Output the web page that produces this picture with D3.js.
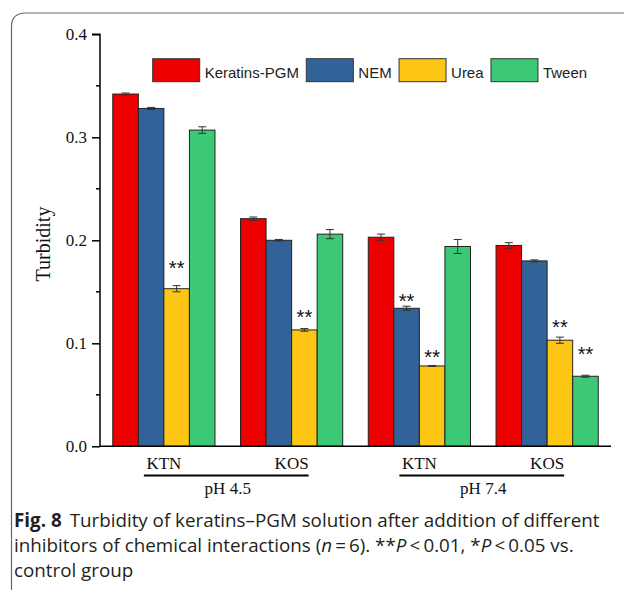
<!DOCTYPE html>
<html>
<head>
<meta charset="utf-8">
<script src="https://cdn.jsdelivr.net/npm/d3@7"></script>
<style>
  body { margin: 0; background: #fff; }
  svg { display: block; }
</style>
</head>
<body>
<div id="chart-area"></div>
<script>
// Data
const categories = ["KTN", "KOS", "KTN2", "KOS2"]
const catLabels = ["KTN", "KOS", "KTN", "KOS"]
const phLabels = ["pH 4.5", "pH 7.4"]
const series = ["Keratins-PGM", "NEM", "Urea", "Tween"]
const colors = ["#ee0000", "#316399", "#fdc514", "#3cc875"]

const keratins = [0.342, 0.221, 0.203, 0.195]
const nem = [0.328, 0.200, 0.134, 0.180]
const urea = [0.153, 0.113, 0.078, 0.103]
const tween = [0.307, 0.206, 0.194, 0.068]

const keratinsErr = [0.001, 0.0016, 0.003, 0.0027]
const nemErr = [0.001, 0.0008, 0.002, 0.001]
const ureaErr = [0.003, 0.0013, 0.0005, 0.003]
const tweenErr = [0.0032, 0.0044, 0.0068, 0.001]

// ** markers: category index, series index, height (turbidity units)
const starCat = [0, 1, 2, 2, 3, 3]
const starSer = [2, 2, 1, 2, 2, 3]
const starAt = [0.1777, 0.1304, 0.1456, 0.0916, 0.1204, 0.0944]

const yTicks = [0, 0.1, 0.2, 0.3, 0.4]
const yMinor = [0.05, 0.15, 0.25, 0.35]

const W = 624, H = 590
const MARGIN = { LEFT: 100, RIGHT: 13, TOP: 34.3, BOTTOM: 143.7 }

const svg = d3.select("#chart-area").append("svg")
  .attr("width", W)
  .attr("height", H)

// frame round the figure
svg.append("path")
  .attr("d", "M11.5,590 L11.5,27 Q11.5,13 25.5,13 L624,13")
  .attr("fill", "none")
  .attr("stroke", "#666")
  .attr("stroke-width", 1.2)

const allValues = [keratins, nem, urea, tween]
const allErrs = [keratinsErr, nemErr, ureaErr, tweenErr]

const data = []
categories.forEach((c, i) => {
  series.forEach((s, j) => {
    data.push({ cat: c, ser: s, j: j, value: allValues[j][i], err: allErrs[j][i] })
  })
})

// Scales
const x0 = d3.scaleBand()
  .domain(categories)
  .range([MARGIN.LEFT, W - MARGIN.RIGHT])
  .paddingInner(0.2)
  .paddingOuter(0.1)
const x1 = d3.scaleBand()
  .domain(series)
  .range([0, x0.bandwidth()])
const y = d3.scaleLinear()
  .domain([0, 0.4])
  .range([H - MARGIN.BOTTOM, MARGIN.TOP])

// Bars
svg.append("g").selectAll("rect")
  .data(data)
  .join("rect")
  .attr("x", d => x0(d.cat) + x1(d.ser))
  .attr("y", d => y(d.value))
  .attr("width", x1.bandwidth())
  .attr("height", d => y(0) - y(d.value))
  .attr("fill", d => colors[d.j])
  .attr("stroke", "#222")
  .attr("stroke-width", 1)

// Error bars
const eb = svg.append("g").attr("stroke", "#333").attr("stroke-width", 1)
data.forEach(d => {
  const cx = x0(d.cat) + x1(d.ser) + x1.bandwidth() / 2
  const top = y(d.value + d.err), bot = y(d.value - d.err)
  eb.append("line").attr("x1", cx).attr("x2", cx).attr("y1", top).attr("y2", bot)
  eb.append("line").attr("x1", cx - 4).attr("x2", cx + 4).attr("y1", top).attr("y2", top)
  eb.append("line").attr("x1", cx - 4).attr("x2", cx + 4).attr("y1", bot).attr("y2", bot)
})

// Significance stars
svg.append("g").selectAll("text")
  .data(starAt)
  .join("text")
  .attr("x", (d, i) => x0(categories[starCat[i]]) + x1(series[starSer[i]]) + x1.bandwidth() / 2)
  .attr("y", d => y(d))
  .attr("dy", "0.58em")
  .attr("text-anchor", "middle")
  .style("font-family", "Liberation Sans, Arial, sans-serif")
  .style("font-size", "20px")
  .attr("fill", "#111")
  .text("**")

// Y axis
const yAxis = svg.append("g")
  .attr("transform", `translate(${MARGIN.LEFT},0)`)
  .call(d3.axisLeft(y).tickValues(yTicks).tickFormat(d3.format(".1f")).tickSize(8).tickPadding(5))
yAxis.select(".domain").attr("d", `M-8,${y(0.4)}H0V${y(0)}`).attr("stroke-width", 1.5)
yAxis.selectAll(".tick line").attr("stroke-width", 1.5)
yAxis.selectAll(".tick text")
  .style("font-family", "Liberation Serif, Times New Roman, serif")
  .style("font-size", "17px")
  .attr("fill", "#111")
yAxis.selectAll(".minor")
  .data(yMinor)
  .join("line")
  .attr("class", "minor")
  .attr("x1", -4).attr("x2", 0)
  .attr("y1", d => y(d)).attr("y2", d => y(d))
  .attr("stroke", "#000")
  .attr("stroke-width", 1.5)

// X axis (line only)
svg.append("line")
  .attr("x1", MARGIN.LEFT).attr("x2", W - MARGIN.RIGHT)
  .attr("y1", y(0)).attr("y2", y(0))
  .attr("stroke", "#000")
  .attr("stroke-width", 1.5)

// Category labels
svg.append("g").selectAll("text")
  .data(categories)
  .join("text")
  .attr("x", d => x0(d) + x0.bandwidth() / 2)
  .attr("y", 468.5)
  .attr("text-anchor", "middle")
  .style("font-family", "Liberation Serif, Times New Roman, serif")
  .style("font-size", "17px")
  .attr("fill", "#111")
  .text((d, i) => catLabels[i])

// pH brackets
phLabels.forEach((p, k) => {
  const a = categories[k * 2], b = categories[k * 2 + 1]
  const c1 = x0(a) + x0.bandwidth() / 2, c2 = x0(b) + x0.bandwidth() / 2
  svg.append("line")
    .attr("x1", c1 - 20).attr("x2", c2 + 17)
    .attr("y1", 475.5).attr("y2", 475.5)
    .attr("stroke", "#000")
    .attr("stroke-width", 2)
  svg.append("text")
    .attr("x", (c1 + c2) / 2)
    .attr("y", 493.5)
    .attr("text-anchor", "middle")
    .style("font-family", "Liberation Serif, Times New Roman, serif")
    .style("font-size", "17px")
    .attr("fill", "#111")
    .text(p)
})

// Y title
svg.append("text")
  .attr("transform", `translate(50,244) rotate(-90)`)
  .attr("text-anchor", "middle")
  .style("font-family", "Liberation Serif, Times New Roman, serif")
  .style("font-size", "20px")
  .attr("fill", "#111")
  .text("Turbidity")

// Legend
const legend = svg.append("g")
  .style("font-family", "Liberation Sans, Arial, sans-serif")
  .style("font-size", "15px")
let lx = 152.7
series.forEach((s, j) => {
  legend.append("rect")
    .attr("x", lx).attr("y", 58.7)
    .attr("width", 47).attr("height", 23)
    .attr("fill", colors[j])
    .attr("stroke", "#333")
    .attr("stroke-width", 1)
  const t = legend.append("text")
    .attr("x", lx + 52).attr("y", 77.5)
    .attr("fill", "#222")
    .text(s)
  lx = lx + 52 + t.node().getComputedTextLength() + 7.4
})

// Caption
const cap = svg.append("g")
  .style("font-family", "Open Sans, Noto Sans, sans-serif")
  .style("font-size", "17.5px")
  .attr("fill", "#231f20")
const l1 = cap.append("text").attr("x", 14).attr("y", 527)
l1.append("tspan").style("font-weight", "bold").text("Fig. 8")
l1.append("tspan").attr("dx", 8).text("Turbidity of keratins–PGM solution after addition of different")
const l2 = cap.append("text").attr("x", 14).attr("y", 552)
l2.append("tspan").text("inhibitors of chemical interactions (")
l2.append("tspan").style("font-style", "italic").text("n")
l2.append("tspan").text("\u2009=\u20096). **")
l2.append("tspan").style("font-style", "italic").text("P")
l2.append("tspan").text("\u2009<\u20090.01, *")
l2.append("tspan").style("font-style", "italic").text("P")
l2.append("tspan").text("\u2009<\u20090.05 vs.")
cap.append("text").attr("x", 14).attr("y", 577).text("control group")
// size the caption so its first line spans the same width as the figure's
const len1 = l1.node().getComputedTextLength()
cap.style("font-size", (17.5 * 578 / len1).toFixed(2) + "px")
</script>
</body>
</html>
